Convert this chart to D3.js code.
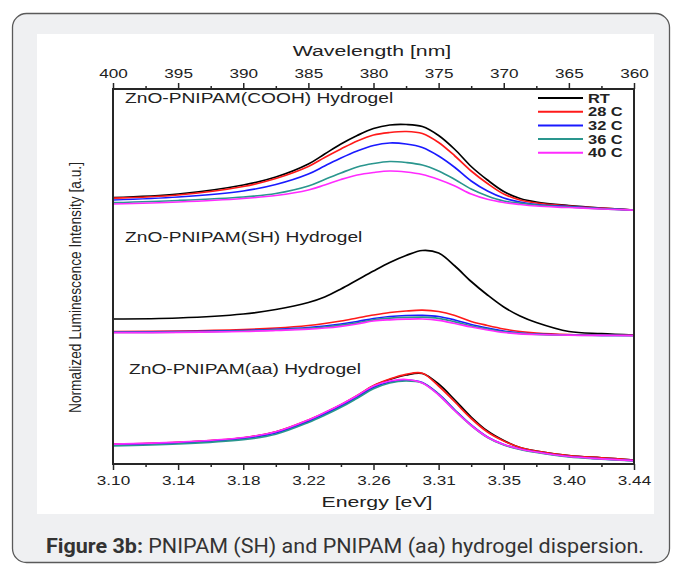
<!DOCTYPE html>
<html>
<head>
<meta charset="utf-8">
<script src="https://cdn.jsdelivr.net/npm/d3@7"></script>
<style>
  body { margin: 0; background: #fff; }
  svg { display: block; font-family: "Liberation Sans", Arial, sans-serif; }
</style>
</head>
<body>
<svg id="chart" width="673" height="564"></svg>
<script>
// Sample wavelengths (nm) shared by every curve.
const wavelength = [400, 395, 390, 387.5, 385, 383.75, 382.5, 381.25, 380, 378.75, 377.5, 376.25, 375, 373.75, 372.5, 371.25, 370, 368.75, 367.5, 365, 362.5, 360];

// Top axis ticks (nm) and the matching energy labels on the bottom axis.
const wavelengthTicks = [400, 395, 390, 385, 380, 375, 370, 365, 360];
const energyTicks = ['3.10', '3.14', '3.18', '3.22', '3.26', '3.31', '3.35', '3.40', '3.44'];

const seriesNames = ['RT', '28 C', '32 C', '36 C', '40 C'];
const seriesColors = ['#000000', '#ff1a1a', '#1a1aff', '#2a968e', '#ff2bff'];

// ZnO-PNIPAM(COOH) hydrogel, stacked offset intensity (a.u.)
const coohRT = [2.635, 2.67, 2.76, 2.84, 2.97, 3.07, 3.17, 3.255, 3.325, 3.36, 3.365, 3.345, 3.255, 3.115, 2.945, 2.81, 2.695, 2.625, 2.59, 2.555, 2.53, 2.51];
const cooh28 = [2.628, 2.66, 2.745, 2.825, 2.945, 3.035, 3.12, 3.2, 3.26, 3.285, 3.295, 3.275, 3.185, 3.05, 2.9, 2.775, 2.67, 2.61, 2.58, 2.55, 2.528, 2.51];
const cooh32 = [2.61, 2.64, 2.7, 2.765, 2.87, 2.95, 3.03, 3.1, 3.155, 3.18, 3.17, 3.135, 3.05, 2.935, 2.8, 2.7, 2.63, 2.59, 2.565, 2.545, 2.525, 2.508];
const cooh36 = [2.583, 2.605, 2.64, 2.675, 2.75, 2.815, 2.88, 2.94, 2.975, 2.995, 2.985, 2.96, 2.9, 2.815, 2.72, 2.65, 2.6, 2.578, 2.56, 2.54, 2.522, 2.508];
const cooh40 = [2.57, 2.59, 2.625, 2.655, 2.71, 2.76, 2.815, 2.86, 2.885, 2.9, 2.89, 2.865, 2.815, 2.75, 2.67, 2.617, 2.585, 2.565, 2.55, 2.535, 2.52, 2.508];

// ZnO-PNIPAM(SH) hydrogel
const shRT = [1.42, 1.43, 1.47, 1.515, 1.585, 1.64, 1.72, 1.81, 1.9, 1.985, 2.055, 2.105, 2.08, 1.95, 1.795, 1.66, 1.54, 1.45, 1.385, 1.295, 1.274, 1.26];
const sh28 = [1.295, 1.3, 1.315, 1.33, 1.355, 1.375, 1.4, 1.43, 1.46, 1.485, 1.5, 1.508, 1.495, 1.455, 1.395, 1.355, 1.32, 1.295, 1.28, 1.265, 1.26, 1.258];
const sh32 = [1.29, 1.293, 1.305, 1.317, 1.335, 1.35, 1.37, 1.395, 1.425, 1.445, 1.455, 1.457, 1.445, 1.41, 1.365, 1.33, 1.3, 1.28, 1.27, 1.26, 1.257, 1.255];
const sh36 = [1.286, 1.289, 1.3, 1.311, 1.327, 1.34, 1.358, 1.382, 1.412, 1.428, 1.436, 1.438, 1.426, 1.392, 1.352, 1.32, 1.292, 1.276, 1.267, 1.259, 1.256, 1.254];
const sh40 = [1.283, 1.286, 1.295, 1.305, 1.318, 1.33, 1.347, 1.37, 1.4, 1.412, 1.418, 1.42, 1.407, 1.375, 1.34, 1.31, 1.285, 1.272, 1.265, 1.258, 1.256, 1.254];

// ZnO-PNIPAM(aa) hydrogel
const aaRT = [0.167, 0.185, 0.23, 0.29, 0.405, 0.48, 0.56, 0.65, 0.75, 0.815, 0.86, 0.875, 0.77, 0.61, 0.44, 0.3, 0.205, 0.135, 0.1, 0.055, 0.032, 0.01];
const aa28 = [0.168, 0.186, 0.232, 0.292, 0.41, 0.483, 0.563, 0.655, 0.755, 0.82, 0.867, 0.878, 0.75, 0.59, 0.425, 0.29, 0.2, 0.135, 0.1, 0.055, 0.032, 0.01];
const aa32 = [0.162, 0.18, 0.225, 0.28, 0.395, 0.47, 0.55, 0.64, 0.735, 0.79, 0.81, 0.785, 0.67, 0.51, 0.36, 0.24, 0.165, 0.12, 0.09, 0.045, 0.022, 0.003];
const aa36 = [0.152, 0.17, 0.213, 0.268, 0.385, 0.457, 0.537, 0.628, 0.722, 0.78, 0.8, 0.78, 0.665, 0.505, 0.355, 0.235, 0.16, 0.115, 0.085, 0.04, 0.018, 0];
const aa40 = [0.168, 0.188, 0.235, 0.292, 0.41, 0.485, 0.565, 0.655, 0.75, 0.8, 0.815, 0.78, 0.66, 0.5, 0.355, 0.238, 0.165, 0.12, 0.09, 0.045, 0.022, 0.003];

const panelLabels = ['ZnO-PNIPAM(COOH) Hydrogel', 'ZnO-PNIPAM(SH) Hydrogel', 'ZnO-PNIPAM(aa) Hydrogel'];
const panelSeries = [
  [coohRT, cooh28, cooh32, cooh36, cooh40],
  [shRT, sh28, sh32, sh36, sh40],
  [aaRT, aa28, aa32, aa36, aa40]
];

// The source image is stretched sideways, so its text is wider than normal.
const STRETCH = 1.37;
function stretch(sel, k) {
  sel.each(function () {
    const w = this.getComputedTextLength();
    d3.select(this).attr('textLength', w * k).attr('lengthAdjust', 'spacingAndGlyphs');
  });
}

const svg = d3.select('#chart');
const plot = { left: 113, right: 634, top: 89, bottom: 464 };
const axisColor = '#262626';

// Page frame: grey rounded card with a white figure panel inside.
svg.append('rect').attr('x', 12.5).attr('y', 13.5).attr('width', 657).attr('height', 549).attr('rx', 14)
  .attr('fill', '#eff0f2').attr('stroke', '#5a5a5a').attr('stroke-width', 1.3);
svg.append('rect').attr('x', 37).attr('y', 34).attr('width', 617).attr('height', 480).attr('fill', '#fff');

const x = d3.scaleLinear().domain([400, 360]).range([plot.left, plot.right]);
const y = d3.scaleLinear().domain([-0.03, 3.72]).range([plot.bottom, plot.top]);

svg.append('clipPath').attr('id', 'plot-clip').append('rect')
  .attr('x', plot.left).attr('y', plot.top).attr('width', plot.right - plot.left).attr('height', plot.bottom - plot.top);

// Curves, drawn RT first so the warmer runs sit on top.
const line = d3.line().x((d, i) => x(wavelength[i])).y(d => y(d)).curve(d3.curveCatmullRom.alpha(0.5));
const curves = svg.append('g').attr('clip-path', 'url(#plot-clip)');
panelSeries.forEach(group => {
  group.forEach((values, s) => {
    curves.append('path').datum(values).attr('d', line)
      .attr('fill', 'none').attr('stroke', seriesColors[s]).attr('stroke-width', 1.7).attr('stroke-linejoin', 'round');
  });
});

// Minor ticks sit halfway between the labelled ones.
const minorTicks = d3.pairs(wavelengthTicks).map(([a, b]) => (a + b) / 2);

function styleAxis(g) {
  g.select('.domain').remove();
  g.selectAll('line').attr('stroke', axisColor).attr('stroke-width', 1.5);
  g.selectAll('text').attr('fill', '#222').style('font-size', '12.5px');
}

const topAxis = svg.append('g').attr('transform', `translate(0,${plot.top})`)
  .call(d3.axisTop(x).tickValues(wavelengthTicks).tickSize(6).tickPadding(5).tickFormat(d3.format('d')));
styleAxis(topAxis);
svg.append('g').attr('transform', `translate(0,${plot.top})`)
  .call(d3.axisTop(x).tickValues(minorTicks).tickSize(3).tickFormat('')).call(styleAxis);

const bottomAxis = svg.append('g').attr('transform', `translate(0,${plot.bottom})`)
  .call(d3.axisBottom(x).tickValues(wavelengthTicks).tickSize(6).tickPadding(6).tickFormat((d, i) => energyTicks[i]));
styleAxis(bottomAxis);
svg.append('g').attr('transform', `translate(0,${plot.bottom})`)
  .call(d3.axisBottom(x).tickValues(minorTicks).tickSize(3).tickFormat('')).call(styleAxis);

stretch(topAxis.selectAll('text'), STRETCH);
stretch(bottomAxis.selectAll('text'), STRETCH);

// Closed frame around the plot area.
svg.append('rect').attr('x', plot.left).attr('y', plot.top)
  .attr('width', plot.right - plot.left).attr('height', plot.bottom - plot.top)
  .attr('fill', 'none').attr('stroke', axisColor).attr('stroke-width', 2);

// Axis titles.
svg.append('text').attr('x', 372).attr('y', 56).attr('text-anchor', 'middle')
  .style('font-size', '15.5px').attr('fill', '#222').text('Wavelength [nm]').call(stretch, STRETCH);
svg.append('text').attr('x', 377).attr('y', 507).attr('text-anchor', 'middle')
  .style('font-size', '15.5px').attr('fill', '#222').text('Energy [eV]').call(stretch, STRETCH);
svg.append('text').attr('transform', 'translate(81,287.5) rotate(-90)').attr('text-anchor', 'middle')
  .style('font-size', '16.5px').attr('fill', '#222').attr('textLength', 251).attr('lengthAdjust', 'spacingAndGlyphs')
  .text('Normalized Luminescence Intensity [a.u.]');

// Panel labels.
const labelPos = [[125, 103], [125, 242], [129, 374]];
panelLabels.forEach((label, i) => {
  svg.append('text').attr('x', labelPos[i][0]).attr('y', labelPos[i][1])
    .style('font-size', '14px').attr('fill', '#222').text(label).call(stretch, STRETCH);
});

// Legend in the top right corner.
const legend = svg.append('g').attr('transform', 'translate(538,98)');
const items = legend.selectAll('g').data(seriesNames).enter().append('g')
  .attr('transform', (d, i) => `translate(0,${i * 13.7})`);
items.append('line').attr('x1', 0).attr('x2', 45).attr('stroke', (d, i) => seriesColors[i]).attr('stroke-width', 2);
items.append('text').attr('x', 50).attr('y', 4.5).style('font-size', '12px').style('font-weight', 'bold')
  .attr('fill', '#222').text(d => d).call(stretch, STRETCH);

// Figure caption below the panel.
const caption = svg.append('text').attr('x', 345).attr('y', 553).attr('text-anchor', 'middle')
  .style('font-family', 'Roboto, "Liberation Sans", sans-serif').style('font-size', '21px').attr('fill', '#333')
  .attr('textLength', 598).attr('lengthAdjust', 'spacingAndGlyphs');
caption.append('tspan').style('font-weight', 'bold').text('Figure 3b:');
caption.append('tspan').text(' PNIPAM (SH) and PNIPAM (aa) hydrogel dispersion.');
</script>
</body>
</html>
